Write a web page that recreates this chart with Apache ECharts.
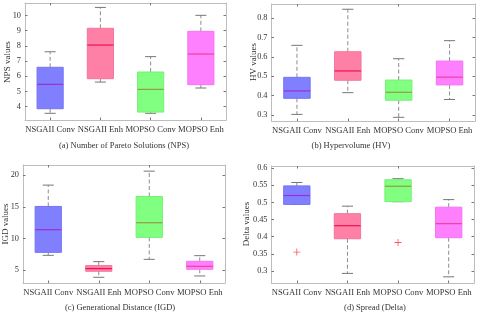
<!DOCTYPE html>
<html><head><meta charset="utf-8">
<script src="https://cdn.jsdelivr.net/npm/echarts@6/dist/echarts.min.js"></script>
<style>html,body{margin:0;padding:0;background:#fff}#c{width:480px;height:314px}</style>
</head><body><div id="c"></div>
<script>
// ---- data ----
const categories = ['NSGAII Conv', 'NSGAII Enh', 'MOPSO Conv', 'MOPSO Enh'];
// [min, q1, median, q3, max]
const npsStats = [[3.57, 3.87, 5.47, 6.59, 7.61], [5.62, 5.84, 8.05, 9.15, 10.52], [3.57, 3.65, 5.14, 6.28, 7.29], [5.23, 5.45, 7.46, 8.95, 10.0]];
const hvStats = [[0.303, 0.386, 0.424, 0.494, 0.659], [0.415, 0.479, 0.527, 0.626, 0.845], [0.288, 0.376, 0.417, 0.480, 0.590], [0.380, 0.455, 0.495, 0.578, 0.683]];
const igdStats = [[7.36, 7.83, 11.4, 15.07, 18.43], [3.9, 4.85, 5.27, 5.74, 6.37], [6.73, 10.19, 12.5, 16.64, 20.63], [4.11, 5.16, 5.63, 6.42, 7.31]];
const deltaStats = [[0.494, 0.494, 0.520, 0.548, 0.558], [0.293, 0.394, 0.432, 0.467, 0.489], [0.502, 0.502, 0.547, 0.566, 0.569], [0.283, 0.397, 0.438, 0.486, 0.508]];
const deltaOutliers = [[0, 0.355], [2, 0.383]];
const npsTicks = [4, 5, 6, 7, 8, 9, 10];
const hvTicks = [0.3, 0.4, 0.5, 0.6, 0.7, 0.8];
const igdTicks = [5, 10, 15, 20];
const deltaTicks = [0.3, 0.35, 0.4, 0.45, 0.5, 0.55, 0.6];
const yNames = ['NPS values', 'HV values', 'IGD values', 'Delta values'];
const captions = ['(a) Number of Pareto Solutions (NPS)', '(b) Hypervolume (HV)', '(c) Generational Distance (IGD)', '(d) Spread (Delta)'];

// ---- styles ----
const FONT = 'Liberation Serif';
const fills = ['#8080ff', '#ff80a6', '#80ff80', '#ff80ff'];
const edges = ['#7474f4', '#f4749c', '#74f074', '#f474f4'];
const medians = ['#9a30d0', '#ee1150', '#9a9a40', '#f0409a'];
const grids = [
  {left: 25, top: 3, width: 201, height: 117},
  {left: 271.5, top: 4, width: 203.5, height: 117},
  {left: 23, top: 165, width: 202, height: 118},
  {left: 271.5, top: 166, width: 202.5, height: 117}
];
const ranges = [[3.13, 10.81], [0.269, 0.872], [3.0, 21.6], [0.265, 0.606]];
const tickSets = [npsTicks, hvTicks, igdTicks, deltaTicks];
const statSets = [npsStats, hvStats, igdStats, deltaStats];

const frameColor = '#bdbdbd';
const labelColor = '#333';

const xAxes = [], yAxes = [], series = [], graphic = [];
grids.forEach((g, i) => {
  xAxes.push({
    type: 'category', gridIndex: i, data: categories, boundaryGap: true,
    axisLine: {show: true, lineStyle: {color: frameColor, width: 1}},
    axisTick: {show: true, inside: true, alignWithLabel: true, length: 2.5, lineStyle: {color: '#777'}},
    axisLabel: {fontFamily: FONT, fontSize: 8.6, color: labelColor, margin: 5, interval: 0}
  });
  xAxes.push({
    type: 'category', gridIndex: i, data: categories, position: 'top', boundaryGap: true,
    axisLine: {show: true, lineStyle: {color: frameColor, width: 1}},
    axisTick: {show: true, inside: true, alignWithLabel: true, length: 2.5, lineStyle: {color: '#777'}},
    axisLabel: {show: false}
  });
  const ticks = tickSets[i];
  yAxes.push({
    type: 'value', gridIndex: i, min: ranges[i][0], max: ranges[i][1],
    axisLine: {show: true, lineStyle: {color: frameColor, width: 1}},
    axisTick: {show: true, inside: true, length: 2.5, customValues: ticks, lineStyle: {color: '#777'}},
    axisLabel: {fontFamily: FONT, fontSize: 8.3, color: labelColor, margin: 4, customValues: ticks,
      showMinLabel: true, showMaxLabel: true},
    splitLine: {show: false}
  });
  yAxes.push({
    type: 'value', gridIndex: i, min: ranges[i][0], max: ranges[i][1], position: 'right',
    axisLine: {show: true, lineStyle: {color: frameColor, width: 1}},
    axisTick: {show: true, inside: true, length: 2.5, customValues: ticks, lineStyle: {color: '#777'}},
    axisLabel: {show: false},
    splitLine: {show: false}
  });
  const data = statSets[i].map((s, k) => [k].concat(s));
  series.push({
    type: 'custom', xAxisIndex: 2 * i, yAxisIndex: 2 * i, data: data,
    encode: {x: 0, y: [1, 2, 3, 4, 5]},
    renderItem: function (params, api) {
      const k = api.value(0);
      const band = api.size([1, 0])[0];
      const bw = band * 0.26, cw = band * 0.11;
      const pMin = api.coord([k, api.value(1)]);
      const pQ1 = api.coord([k, api.value(2)]);
      const pMed = api.coord([k, api.value(3)]);
      const pQ3 = api.coord([k, api.value(4)]);
      const pMax = api.coord([k, api.value(5)]);
      const x = pMed[0];
      const wh = {stroke: '#8c8c8c', lineWidth: 1, lineDash: [4, 2.5]};
      const cap = {stroke: '#777', lineWidth: 1};
      return {
        type: 'group', children: [
          {type: 'line', shape: {x1: x, y1: pQ3[1], x2: x, y2: pMax[1]}, style: wh},
          {type: 'line', shape: {x1: x, y1: pQ1[1], x2: x, y2: pMin[1]}, style: wh},
          {type: 'line', shape: {x1: x - cw, y1: pMax[1], x2: x + cw, y2: pMax[1]}, style: cap},
          {type: 'line', shape: {x1: x - cw, y1: pMin[1], x2: x + cw, y2: pMin[1]}, style: cap},
          {type: 'rect', shape: {x: x - bw, y: pQ3[1], width: 2 * bw, height: pQ1[1] - pQ3[1]},
            style: {fill: fills[k], stroke: edges[k], lineWidth: 1}},
          {type: 'line', shape: {x1: x - bw, y1: pMed[1], x2: x + bw, y2: pMed[1]},
            style: {stroke: medians[k], lineWidth: 1.2}}
        ]
      };
    }
  });
  graphic.push({
    type: 'text',
    x: [8, 254, 6, 247][i], y: [62, 62, 224, 224][i], rotation: Math.PI / 2,
    style: {text: yNames[i], font: '9px "Liberation Serif"', fill: '#333', textAlign: 'center', textVerticalAlign: 'middle'}
  });
  graphic.push({
    type: 'text',
    x: [124, 351, 120, 375][i], y: [145.5, 145.5, 307.5, 307.5][i],
    style: {text: captions[i], font: '8.5px "Liberation Serif"', fill: '#333', textAlign: 'center', textVerticalAlign: 'middle'}
  });
});
series.push({
  type: 'scatter', xAxisIndex: 6, yAxisIndex: 6, data: deltaOutliers,
  symbol: 'path://M4.4,0H5.6V4.4H10V5.6H5.6V10H4.4V5.6H0V4.4H4.4Z', symbolSize: 7,
  itemStyle: {color: '#ff3030'}, silent: true
});

const chart = echarts.init(document.getElementById('c'), null, {renderer: 'canvas'});
chart.setOption({
  animation: false,
  grid: grids,
  xAxis: xAxes, yAxis: yAxes, series: series,
  graphic: graphic
});
</script></body></html>
